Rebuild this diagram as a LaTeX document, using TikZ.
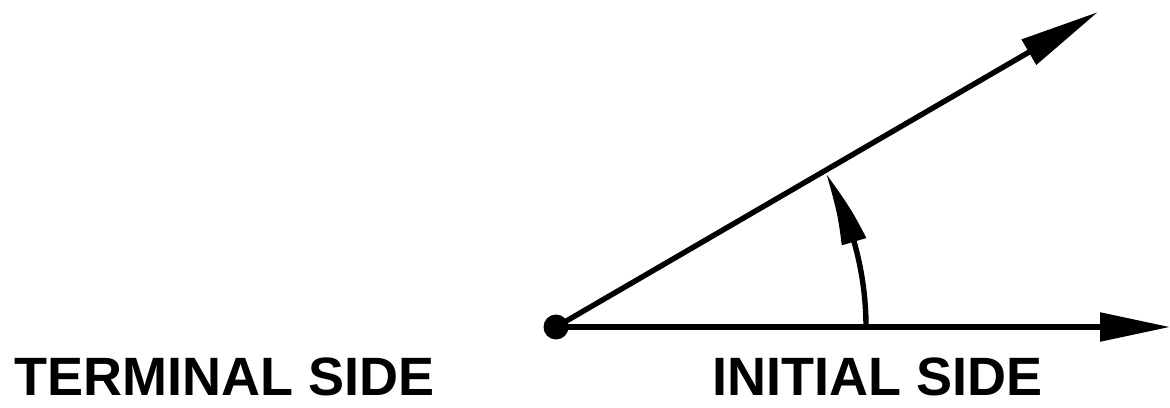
\documentclass[tikz,border=0pt]{standalone}
\usepackage{fontspec}
\setmainfont{Liberation Sans}
\usetikzlibrary{arrows.meta,bending}
\begin{document}
\begin{tikzpicture}[x=0.5pt,y=0.5pt,
  side/.style={line width=2.7pt},
  lbl/.style={inner sep=0pt,anchor=base west,font=\bfseries\fontsize{27pt}{27pt}\selectfont}]
\useasboundingbox (0,0) rectangle (1170,407);
\coordinate (O) at (556,80);
\coordinate (A) at (1170,80);
\coordinate (B) at (1098,395);
\coordinate (P) at (866,80);
\draw[side,-{Triangle[length=35pt,width=14pt]}] (O) -- (A);
\draw[side,-{Triangle[length=40pt,width=14pt]}] (O) -- (B);
\draw[side,-{Triangle[length=37pt,width=12pt,bend]}] (P) arc[start angle=0,end angle=29.6,radius=310];
\node[circle,fill=black,minimum size=12.5pt,inner sep=0pt] (V) at (O) {};
\node[lbl] (t) at (14,12) {TERMINAL SIDE};
\node[lbl] (i) at (712,12) {INITIAL SIDE};
\end{tikzpicture}
\end{document}
